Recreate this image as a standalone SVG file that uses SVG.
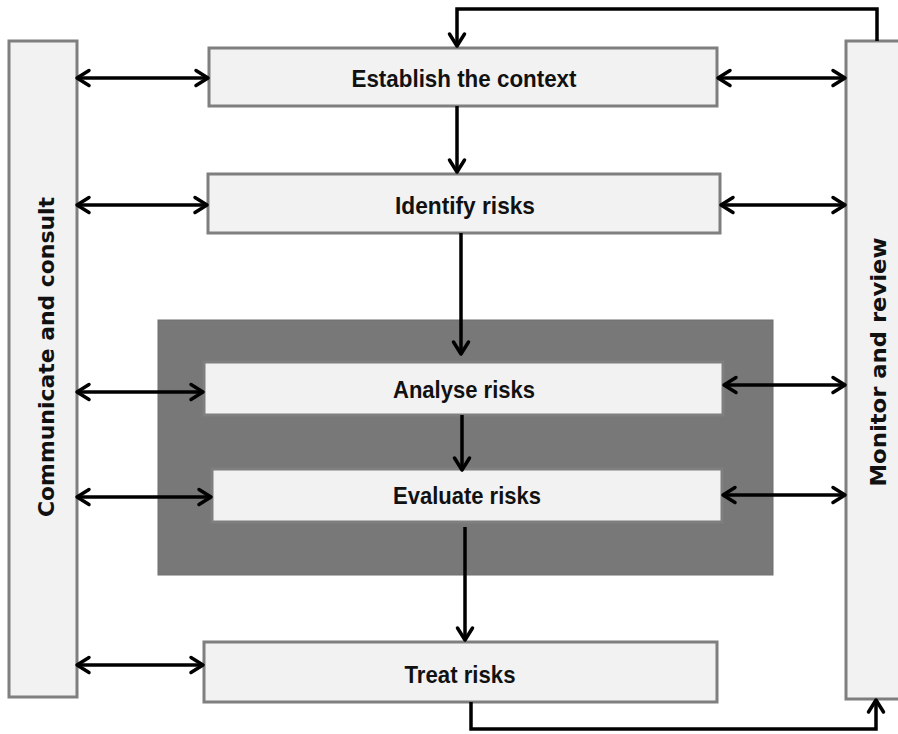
<svg xmlns="http://www.w3.org/2000/svg" width="898" height="734" viewBox="0 0 898 734">
<style>
.bg{fill:#ffffff}
.box{fill:#f2f2f2;stroke:#7f7f7f;stroke-width:3}
.dark{fill:#787878;stroke:#6e6e6e;stroke-width:1}
.lbl{font-family:"Liberation Sans",Arial,sans-serif;font-weight:bold;font-size:24px;fill:#111111;text-anchor:middle}
.vlbl{font-family:"DejaVu Sans","Liberation Sans",sans-serif;font-weight:bold;font-size:21px;fill:#111111;text-anchor:middle}
.con{fill:none;stroke:#000000;stroke-width:3.5}
</style>
<defs>
<marker id="ah" viewBox="0 0 20 20" refX="17" refY="10" markerWidth="20" markerHeight="20" markerUnits="userSpaceOnUse" orient="auto-start-reverse">
<path d="M5,2.5 L17,10 L5,17.5" fill="none" stroke="#000000" stroke-width="3.5" stroke-linecap="round" stroke-linejoin="round"/>
</marker>
</defs>
<rect class="bg" x="0" y="0" width="898" height="734"/>
<g id="assessment-area">
<rect class="dark" x="158" y="320" width="615" height="255"/>
</g>
<g id="communicate">
<rect class="box" x="9" y="41" width="68" height="656"/>
<text class="vlbl" transform="translate(54,357) rotate(-90)" textLength="320" lengthAdjust="spacingAndGlyphs">Communicate and consult</text>
</g>
<g id="monitor">
<rect class="box" x="846" y="41" width="60" height="658"/>
<text class="vlbl" transform="translate(886,362) rotate(-90)" textLength="249" lengthAdjust="spacingAndGlyphs">Monitor and review</text>
</g>
<g id="establish">
<rect class="box" x="209" y="48" width="508" height="58"/>
<text class="lbl" x="464" y="87" textLength="225" lengthAdjust="spacingAndGlyphs">Establish the context</text>
</g>
<g id="identify">
<rect class="box" x="208" y="174" width="512" height="59"/>
<text class="lbl" x="465" y="214" textLength="140" lengthAdjust="spacingAndGlyphs">Identify risks</text>
</g>
<g id="analyse">
<rect class="box" x="204" y="362" width="519" height="53"/>
<text class="lbl" x="464" y="398" textLength="142" lengthAdjust="spacingAndGlyphs">Analyse risks</text>
</g>
<g id="evaluate">
<rect class="box" x="212" y="469" width="510" height="53"/>
<text class="lbl" x="467" y="504" textLength="148" lengthAdjust="spacingAndGlyphs">Evaluate risks</text>
</g>
<g id="treat">
<rect class="box" x="204" y="642" width="513" height="60"/>
<text class="lbl" x="460" y="683" textLength="111" lengthAdjust="spacingAndGlyphs">Treat risks</text>
</g>
<g id="connectors">
<line class="con" x1="77" y1="78" x2="208" y2="78" marker-start="url(#ah)" marker-end="url(#ah)"/>
<line class="con" x1="77" y1="205" x2="207" y2="205" marker-start="url(#ah)" marker-end="url(#ah)"/>
<line class="con" x1="77" y1="392" x2="203" y2="392" marker-start="url(#ah)" marker-end="url(#ah)"/>
<line class="con" x1="77" y1="497" x2="211" y2="497" marker-start="url(#ah)" marker-end="url(#ah)"/>
<line class="con" x1="77" y1="665" x2="203" y2="665" marker-start="url(#ah)" marker-end="url(#ah)"/>
<line class="con" x1="718" y1="78" x2="845" y2="78" marker-start="url(#ah)" marker-end="url(#ah)"/>
<line class="con" x1="721" y1="205" x2="845" y2="205" marker-start="url(#ah)" marker-end="url(#ah)"/>
<line class="con" x1="724" y1="385" x2="845" y2="385" marker-start="url(#ah)" marker-end="url(#ah)"/>
<line class="con" x1="723" y1="495" x2="845" y2="495" marker-start="url(#ah)" marker-end="url(#ah)"/>
<line class="con" x1="457" y1="106" x2="457" y2="172" marker-end="url(#ah)"/>
<line class="con" x1="461" y1="233" x2="461" y2="354" marker-end="url(#ah)"/>
<line class="con" x1="462" y1="415" x2="462" y2="470" marker-end="url(#ah)"/>
<line class="con" x1="465" y1="527" x2="465" y2="640" marker-end="url(#ah)"/>
<polyline class="con" points="877,41 877,9 457,9 457,46" marker-end="url(#ah)"/>
<polyline class="con" points="471,702 471,729 876,729 876,700" marker-end="url(#ah)"/>
</g>
</svg>
